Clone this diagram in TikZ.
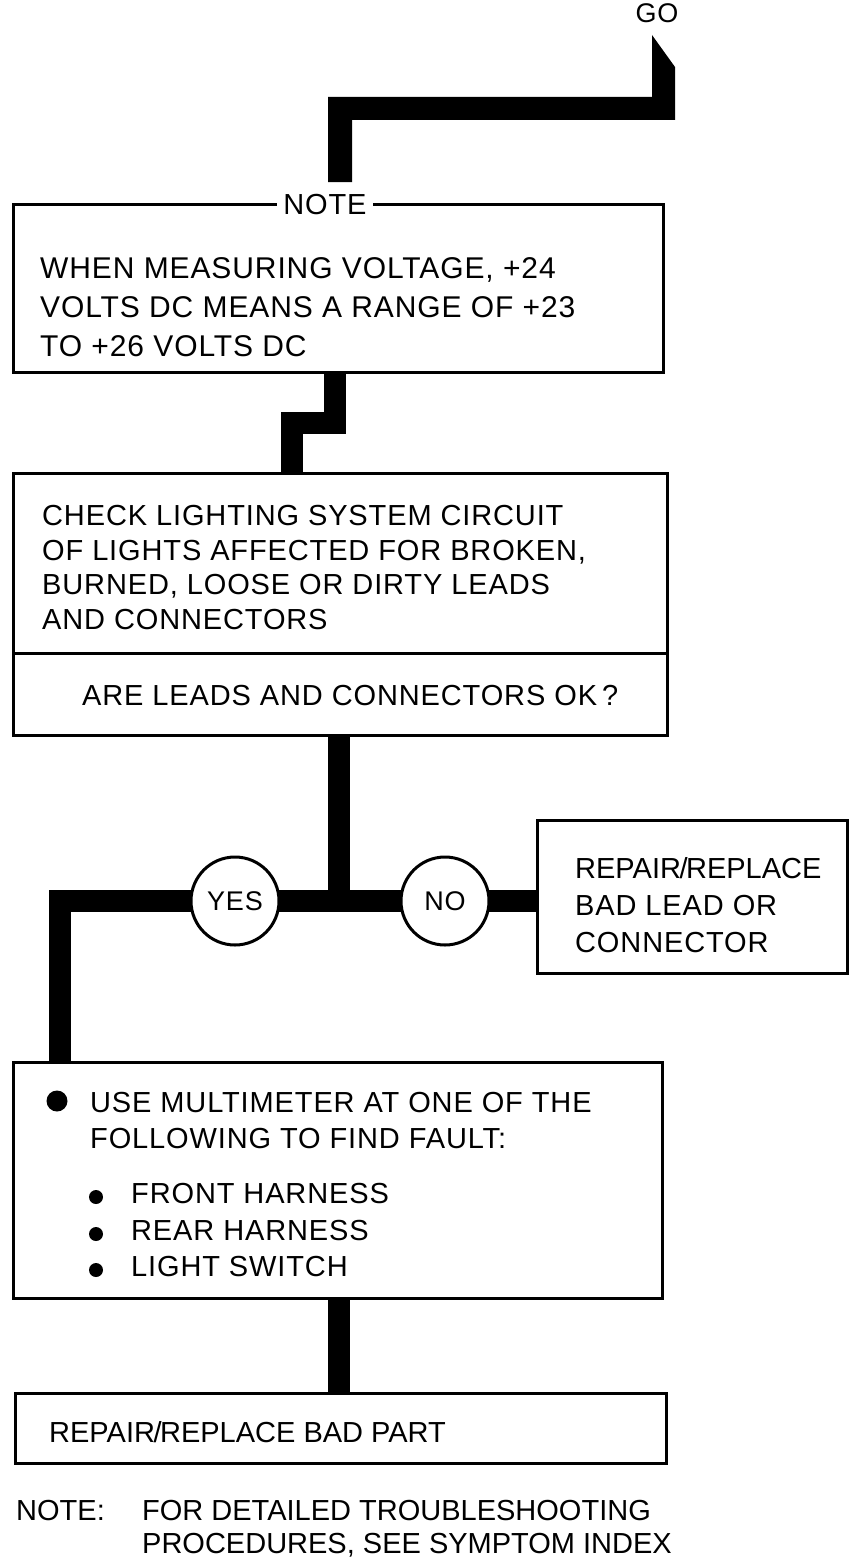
\documentclass[tikz,border=0pt]{standalone}
\usepackage{fontspec}
\newfontfamily\tf[LetterSpace=3]{Liberation Sans}
\newfontfamily\tfn{Liberation Sans}
\newcommand{\slsh}{\kern-1.5pt/\kern-1.5pt}
\begin{document}
\begin{tikzpicture}[x=1pt,y=-1pt,
  box/.style={draw, line width=3pt, inner sep=0pt},
  conn/.style={line width=22pt, line cap=butt, line join=miter},
  txt/.style={anchor=base west, inner sep=0pt, font=\tf\fontsize{29}{34}\selectfont},
  ntxt/.style={anchor=base west, inner sep=0pt, font=\tf\fontsize{30}{34}\selectfont},
  ttxt/.style={anchor=base west, inner sep=0pt, font=\tfn\fontsize{29}{34}\selectfont},
  circ/.style={circle, draw, line width=3pt, fill=white, minimum size=88pt, inner sep=0pt, font=\tf\fontsize{27}{32}\selectfont},
  dot/.style={circle, fill=black, inner sep=0pt}]
\useasboundingbox (0,0) rectangle (854,1560);

% boxes
\node[box, minimum width=650pt, minimum height=168pt] (note) at (338,288) {};
\node[box, minimum width=654pt, minimum height=180pt] (check) at (340,563) {};
\node[box, minimum width=654pt, minimum height=82pt] (question) at (340,694) {};
\node[box, minimum width=310pt, minimum height=153pt] (repair) at (692,896.5) {};
\node[box, minimum width=649pt, minimum height=236pt] (meter) at (337.5,1180) {};
\node[box, minimum width=651pt, minimum height=70pt] (part) at (340.5,1428) {};

% GO and its connector
\node[anchor=base, inner sep=0pt, font=\tf\fontsize{27}{30}\selectfont] (go) at (657,23) {GO};
\fill (652,35) -- (675,67) -- (675,120) -- (352,120) -- (352,182) -- (328,182) -- (328,97) -- (652,97) -- cycle;

% NOTE label
\node[fill=white, inner xsep=6pt, inner ysep=2pt, font=\tf\fontsize{29}{32}\selectfont] (notelbl) at (325,205) {NOTE};

% connectors
\coordinate (s1) at (292,422.5);
\draw[conn] ([xshift=-3pt]note.south) |- (s1) -- (s1 |- check.north);

\coordinate (yes) at (235,901);
\coordinate (no) at (445,901);
\coordinate (qx) at (338.5,735);
\coordinate (lx) at (59.5,1062);
\coordinate (mx) at (338.5,1298);
\draw[conn] (qx |- question.south) -- (qx |- no);
\draw[conn] (yes) -- (no) -- (no -| repair.west);
\draw[conn] (yes) -| (lx |- meter.north);
\draw[conn] (mx |- meter.south) -- (mx |- part.north);

\node[circ] (yesc) at (yes) {YES};
\node[circ] (noc) at (no) {NO};

% texts
\node[ntxt] (n1) at (40,278) {WHEN MEASURING VOLTAGE, +24};
\node[ntxt] (n2) at (40,317) {VOLTS DC MEANS A RANGE OF +23};
\node[ntxt] (n3) at (40,356) {TO +26 VOLTS DC};

\node[txt] (c1) at (42,525) {CHECK LIGHTING SYSTEM CIRCUIT};
\node[txt] (c2) at (42,560) {OF LIGHTS AFFECTED FOR BROKEN,};
\node[txt] (c3) at (42,594.5) {BURNED, LOOSE OR DIRTY LEADS};
\node[txt] (c4) at (42,629) {AND CONNECTORS};
\node[txt] (q1) at (82,705) {ARE LEADS AND CONNECTORS OK\kern5pt?};

\node[ttxt] (r1) at (575,878) {REPAIR\slsh REPLACE};
\node[txt] (r2) at (575,915) {BAD LEAD OR};
\node[txt] (r3) at (575,952) {CONNECTOR};

\node[dot, minimum size=21pt] (b0) at (57,1101) {};
\node[txt] (m1) at (90,1112) {USE MULTIMETER AT ONE OF THE};
\node[txt] (m2) at (90,1148) {FOLLOWING TO FIND FAULT:};
\node[dot, minimum size=14pt] (b1) at (96,1197) {};
\node[dot, minimum size=14pt] (b2) at (96,1234) {};
\node[dot, minimum size=14pt] (b3) at (96,1270) {};
\node[txt] (m3) at (131,1203) {FRONT HARNESS};
\node[txt] (m4) at (131,1240) {REAR HARNESS};
\node[txt] (m5) at (131,1276) {LIGHT SWITCH};

\node[ttxt] (p1) at (49,1442) {REPAIR\slsh REPLACE BAD PART};

\node[ttxt] (f0) at (16,1520) {NOTE:};
\node[ttxt] (f1) at (142,1520) {FOR DETAILED TROUBLESHOOTING};
\node[ttxt] (f2) at (142,1553) {PROCEDURES, SEE SYMPTOM INDEX};
\end{tikzpicture}
\end{document}
